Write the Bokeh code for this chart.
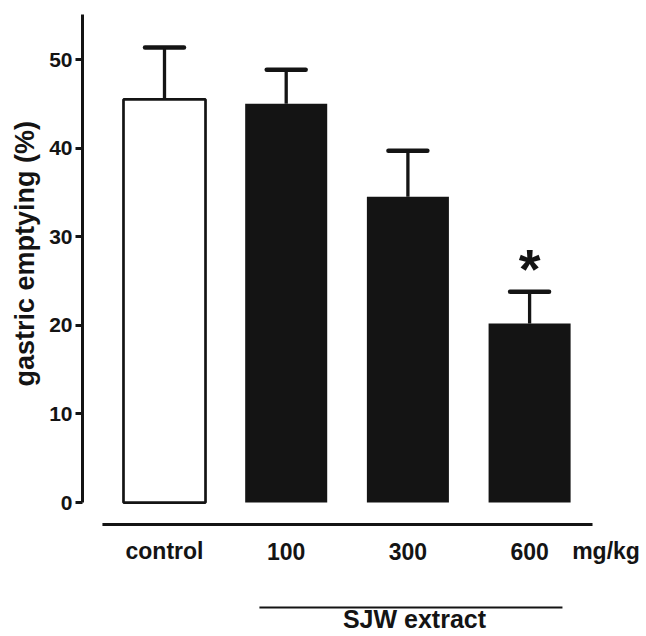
from bokeh.plotting import figure
from bokeh.models import ColumnDataSource, FixedTicker, Range1d, Title
from bokeh.core.properties import value
from bokeh.embed import file_html
from bokeh.resources import INLINE

# ---- data ----
categories = ["control", "100", "300", "600"]
means = [45.5, 45.0, 34.5, 20.2]
errors = [5.85, 3.85, 5.2, 3.6]
fills = ["white", "#141414", "#141414", "#141414"]
border_widths = [2.7, 0, 0, 0]
significance = ["", "", "", "*"]
y_ticks = [0, 10, 20, 30, 40, 50]
unit_label = "mg/kg"
group_label = "SJW extract"
y_label = "gastric emptying (%)"

INK = "#141414"
FONT = "Liberation Sans"

xs = list(range(len(categories)))
upper = [m + e for m, e in zip(means, errors)]

src = ColumnDataSource(dict(
    x=xs, top=means, upper=upper, fill=fills, lw=border_widths,
    cap0=[x - 0.16 for x in xs], cap1=[x + 0.16 for x in xs],
    label=categories, sig=significance,
))

p = figure(width=646, height=636, output_backend="svg", toolbar_location=None,
           x_range=Range1d(-0.6738, 3.9606), y_range=Range1d(-15.12, 56.66),
           x_axis_location=None,
           min_border_left=82, min_border_right=0, min_border_top=0, min_border_bottom=0,
           outline_line_color=None, background_fill_color="white", border_fill_color="white")
p.grid.visible = False

# y axis
ax = p.yaxis[0]
ax.bounds = (0, 55.08)
ax.ticker = FixedTicker(ticks=y_ticks)
ax.major_tick_out = 7
ax.major_tick_in = 0
ax.minor_tick_out = 0
ax.minor_tick_in = 0
ax.axis_line_width = 3
ax.axis_line_color = INK
ax.major_tick_line_width = 3
ax.major_tick_line_color = INK
ax.major_label_standoff = 3
ax.major_label_text_font = FONT
ax.major_label_text_font_style = "bold"
ax.major_label_text_font_size = "21px"
ax.major_label_text_color = INK

# y-axis title, in the left panel, shifted up to sit beside the value span
p.add_layout(Title(text=y_label, align="left", offset=250,
                   text_font=FONT, text_font_style="bold", text_font_size="27px",
                   text_color=INK, standoff=13), "left")

# bars
p.vbar(x="x", top="top", bottom=0, width=0.674, source=src,
       fill_color="fill", line_color=INK, line_width="lw")

# error bars (upper only)
p.segment(x0="x", y0="top", x1="x", y1="upper", source=src,
          line_color=INK, line_width=3.3)
p.segment(x0="cap0", y0="upper", x1="cap1", y1="upper", source=src,
          line_color=INK, line_width=4.5, line_cap="round")

# significance marker
p.text(x="x", y="upper", text="sig", source=src, text_align="center",
       text_baseline="alphabetic", y_offset=-23,
       text_font=value(FONT), text_font_style="bold", text_font_size="56px",
       text_color=INK)

# category axis line
n = len(categories)
axis_y = -2.48
p.segment(x0=[-0.51], y0=[axis_y], x1=[n - 1 + 0.517], y1=[axis_y],
          line_color=INK, line_width=3)

# category labels
label_y = -5.5
p.text(x="x", y=label_y, text="label", source=src, text_align="center",
       text_baseline="alphabetic", text_font=value(FONT), text_font_style="bold",
       text_font_size="23px", text_color=INK)
p.text(x=[n - 1 + 0.628], y=[label_y], text=[unit_label], text_align="center",
       text_baseline="alphabetic", text_font=value(FONT), text_font_style="bold",
       text_font_size="23px", text_color=INK)

# group bracket line and label
p.segment(x0=[0.78], y0=[-11.85], x1=[3.27], y1=[-11.85],
          line_color=INK, line_width=2)
p.text(x=[2.054], y=[-13.2], text=[group_label], text_align="center",
       text_baseline="alphabetic", text_font=value(FONT), text_font_style="bold",
       text_font_size="25px", text_color=INK)

open("out.html", "w").write(file_html(p, INLINE))
